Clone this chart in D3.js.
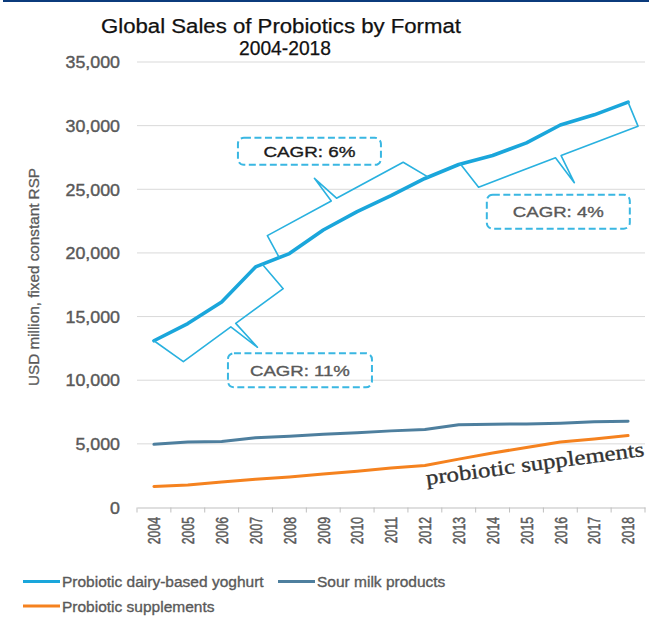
<!DOCTYPE html>
<html>
<head>
<meta charset="utf-8">
<script src="https://cdn.jsdelivr.net/npm/d3@7"></script>
<style>
  html, body { margin: 0; padding: 0; background: #ffffff; }
  svg { display: block; font-family: "Liberation Sans", Arial, sans-serif; }
</style>
</head>
<body>
<svg id="chart" width="649" height="617"></svg>
<script>
// ---- data ----
const years = [2004, 2005, 2006, 2007, 2008, 2009, 2010, 2011, 2012, 2013, 2014, 2015, 2016, 2017, 2018];
const yoghurt = [13100, 14450, 16150, 18900, 19950, 21800, 23250, 24500, 25850, 26950, 27650, 28650, 30050, 30850, 31850];
const sourMilk = [4960, 5150, 5180, 5480, 5600, 5750, 5870, 6020, 6120, 6500, 6550, 6560, 6620, 6730, 6770];
const supplements = [1650, 1770, 2000, 2220, 2400, 2630, 2850, 3100, 3300, 3800, 4280, 4720, 5150, 5380, 5650];
const yTicks = [0, 5000, 10000, 15000, 20000, 25000, 30000, 35000];
const seriesNames = ["Probiotic dairy-based yoghurt", "Sour milk products", "Probiotic supplements"];
const cagrLabels = ["CAGR: 11%", "CAGR: 6%", "CAGR: 4%"];
const titleLines = ["Global Sales of Probiotics by Format", "2004-2018"];
const yTitle = "USD million, fixed constant RSP";
const inlineNote = "probiotic supplements";

// ---- layout & styles ----
const svg = d3.select("#chart");
const plot = { left: 137, right: 645, top: 62, bottom: 507.5 };
const colors = { yoghurt: "#1aa6db", sour: "#4e7f9e", supp: "#f5821f", brace: "#29b1df", box: "#3ab7e2" };
const textGrey = "#595959";

// stretch/compress text horizontally to a factor of its natural width
function stretch(sel, k) {
  sel.each(function () {
    const w = this.getComputedTextLength();
    d3.select(this).attr("textLength", w * k).attr("lengthAdjust", "spacingAndGlyphs");
  });
}
// slightly heavier glyphs for the grey labels
function heavy(sel, c, w) {
  sel.attr("stroke", c).attr("stroke-width", w).attr("paint-order", "stroke");
}

// top rule
svg.append("rect").attr("x", 3).attr("y", 0).attr("width", 646).attr("height", 2).attr("fill", "#0b3b7c");

// title
svg.append("text").attr("x", 281).attr("y", 33).attr("text-anchor", "middle")
  .attr("font-size", 20).attr("fill", "#111").attr("textLength", 360).attr("lengthAdjust", "spacingAndGlyphs")
  .call(heavy, "#111", 0.25)
  .text(titleLines[0]);
svg.append("text").attr("x", 285).attr("y", 55).attr("text-anchor", "middle")
  .attr("font-size", 20).attr("fill", "#111").attr("textLength", 92).attr("lengthAdjust", "spacingAndGlyphs")
  .call(heavy, "#111", 0.25)
  .text(titleLines[1]);

// scales
const x = d3.scalePoint().domain(years).range([plot.left, plot.right]).padding(0.5);
const xBand = d3.scaleBand().domain(years).range([plot.left, plot.right]);
const y = d3.scaleLinear().domain([0, 35000]).range([plot.bottom, plot.top]);

// gridlines
svg.append("g").selectAll("line").data(yTicks.filter(d => d > 0)).join("line")
  .attr("x1", plot.left).attr("x2", plot.right)
  .attr("y1", d => y(d)).attr("y2", d => y(d))
  .attr("stroke", "#d9d9d9").attr("stroke-width", 1);

// y axis labels
const yAxis = svg.append("g").attr("transform", `translate(${plot.left},0)`)
  .call(d3.axisLeft(y).tickValues(yTicks).tickSize(0).tickPadding(17).tickFormat(d3.format(",")));
yAxis.select(".domain").remove();
yAxis.selectAll("text").attr("font-size", 16.5).attr("fill", textGrey)
  .attr("font-family", "'Liberation Sans', Arial, sans-serif").attr("dy", "0.35em")
  .call(heavy, textGrey, 0.4)
  .call(stretch, 1.08);

// y axis title
svg.append("text").attr("transform", "translate(39,277) rotate(-90)")
  .attr("text-anchor", "middle").attr("font-size", 15.5).attr("fill", textGrey)
  .call(heavy, textGrey, 0.3)
  .attr("textLength", 218).attr("lengthAdjust", "spacingAndGlyphs")
  .text(yTitle);

// x axis
const xAxis = svg.append("g").attr("transform", `translate(0,${plot.bottom})`)
  .call(d3.axisBottom(x).tickSize(0).tickSizeOuter(0));
xAxis.select(".domain").attr("stroke", "#bfbfbf");
xAxis.selectAll("text")
  .attr("transform", "rotate(-90)").attr("text-anchor", "end")
  .attr("x", -9.5).attr("y", 0).attr("dy", "0.35em")
  .attr("font-size", 16.5).attr("fill", textGrey)
  .attr("font-family", "'Liberation Sans', Arial, sans-serif")
  .call(heavy, textGrey, 0.5)
  .call(stretch, 0.74);
xAxis.append("g").selectAll("line")
  .data([...years.map(d => xBand(d)), plot.right]).join("line")
  .attr("x1", d => d).attr("x2", d => d).attr("y1", 0).attr("y2", 5)
  .attr("stroke", "#bfbfbf");

// series lines
const line = d3.line().x((d, i) => x(years[i])).y(d => y(d));
const series = [
  { name: seriesNames[0], values: yoghurt, color: colors.yoghurt, width: 3.6 },
  { name: seriesNames[1], values: sourMilk, color: colors.sour, width: 3 },
  { name: seriesNames[2], values: supplements, color: colors.supp, width: 3 }
];
svg.append("g").selectAll("path").data(series.slice().reverse()).join("path")
  .attr("d", d => line(d.values))
  .attr("fill", "none").attr("stroke", d => d.color).attr("stroke-width", d => d.width)
  .attr("stroke-linejoin", "round").attr("stroke-linecap", "round");

// point on the yoghurt line at a fractional year
function onYoghurt(yr) {
  const i = Math.min(Math.floor(yr - years[0]), years.length - 2);
  const f = yr - years[i];
  return [x(years[i]) + f * x.step(), y(yoghurt[i] + f * (yoghurt[i + 1] - yoghurt[i]))];
}

// growth-period braces drawn alongside the yoghurt line, each with a dashed label box
const braces = [
  { from: 2004, to: 2007.2, side: 1, off1: 34, skew1: 12, off2: 32, skew2: 3, at: 0.5, tip: 32, tipSkew: 7,
    box: { dx: 42.5, dy: 23, w: 144, h: 34 }, label: cagrLabels[0], color: textGrey, len: 100 },
  { from: 2007.7, to: 2012.1, side: -1, off1: 25, skew1: 0, off2: 25, skew2: -15, at: 0.49, tip: 28, tipSkew: -7,
    box: { dx: -5, dy: -27, w: 143, h: 27 }, label: cagrLabels[1], color: "#1a1a1a", len: 92 },
  { from: 2013.05, to: 2018, side: 1, off1: 28, skew1: 9, off2: 26, skew2: 1, at: 0.5, tip: 30, tipSkew: 6,
    box: { dx: -16, dy: 29, w: 143, h: 34 }, label: cagrLabels[2], color: textGrey, len: 91 }
];
const gAnn = svg.append("g");
braces.forEach(b => {
  const p1 = onYoghurt(b.from), p2 = onYoghurt(b.to);
  const L = Math.hypot(p2[0] - p1[0], p2[1] - p1[1]);
  const t = [(p2[0] - p1[0]) / L, (p2[1] - p1[1]) / L];
  const n = [-t[1] * b.side, t[0] * b.side];
  const pt = (p, o, s) => [p[0] + n[0] * o + t[0] * s, p[1] + n[1] * o + t[1] * s];
  const b1 = pt(p1, b.off1, b.skew1), b2 = pt(p2, b.off2, b.skew2);
  const m = [b1[0] + (b2[0] - b1[0]) * b.at, b1[1] + (b2[1] - b1[1]) * b.at];
  const tip = pt(m, b.tip, b.tipSkew);
  const pts = [p1, b1, [m[0] - t[0] * 3, m[1] - t[1] * 3], tip, [m[0] + t[0] * 3, m[1] + t[1] * 3], b2, p2];
  gAnn.append("path").attr("d", d3.line()(pts))
    .attr("fill", "none").attr("stroke", colors.brace).attr("stroke-width", 1.6)
    .attr("stroke-linejoin", "round").attr("stroke-linecap", "round");
  const cx = tip[0] + b.box.dx, cy = tip[1] + b.box.dy;
  gAnn.append("rect")
    .attr("x", cx - b.box.w / 2).attr("y", cy - b.box.h / 2)
    .attr("width", b.box.w).attr("height", b.box.h).attr("rx", 6)
    .attr("fill", "none").attr("stroke", colors.box).attr("stroke-width", 2)
    .attr("stroke-dasharray", "7,3.5");
  gAnn.append("text").attr("x", cx).attr("y", cy).attr("dy", "0.35em")
    .attr("text-anchor", "middle").attr("font-size", 15.5).attr("fill", b.color)
    .call(heavy, b.color, 0.35)
    .attr("textLength", b.len).attr("lengthAdjust", "spacingAndGlyphs")
    .text(b.label);
});

// handwritten-style note under the supplements line
svg.append("text")
  .attr("transform", `translate(${x(2012) + 2},${y(1770)}) rotate(-7.6)`)
  .attr("font-family", "'Liberation Serif', 'Times New Roman', serif")
  .attr("font-size", 21).attr("fill", "#333")
  .call(heavy, "#333", 0.35)
  .attr("textLength", 220).attr("lengthAdjust", "spacingAndGlyphs")
  .text(inlineNote);

// legend
const legendPos = [[23, 587], [278, 587], [23, 611.5]];
const lg = svg.append("g").selectAll("g").data(series).join("g")
  .attr("transform", (d, i) => `translate(${legendPos[i][0]},${legendPos[i][1]})`);
lg.append("line").attr("x1", 0).attr("x2", 37).attr("y1", -5.5).attr("y2", -5.5)
  .attr("stroke", d => d.color).attr("stroke-width", 3);
lg.append("text").attr("x", 39).attr("y", 0).attr("font-size", 15.5).attr("fill", textGrey)
  .call(heavy, textGrey, 0.35)
  .text(d => d.name);
</script>
</body>
</html>
